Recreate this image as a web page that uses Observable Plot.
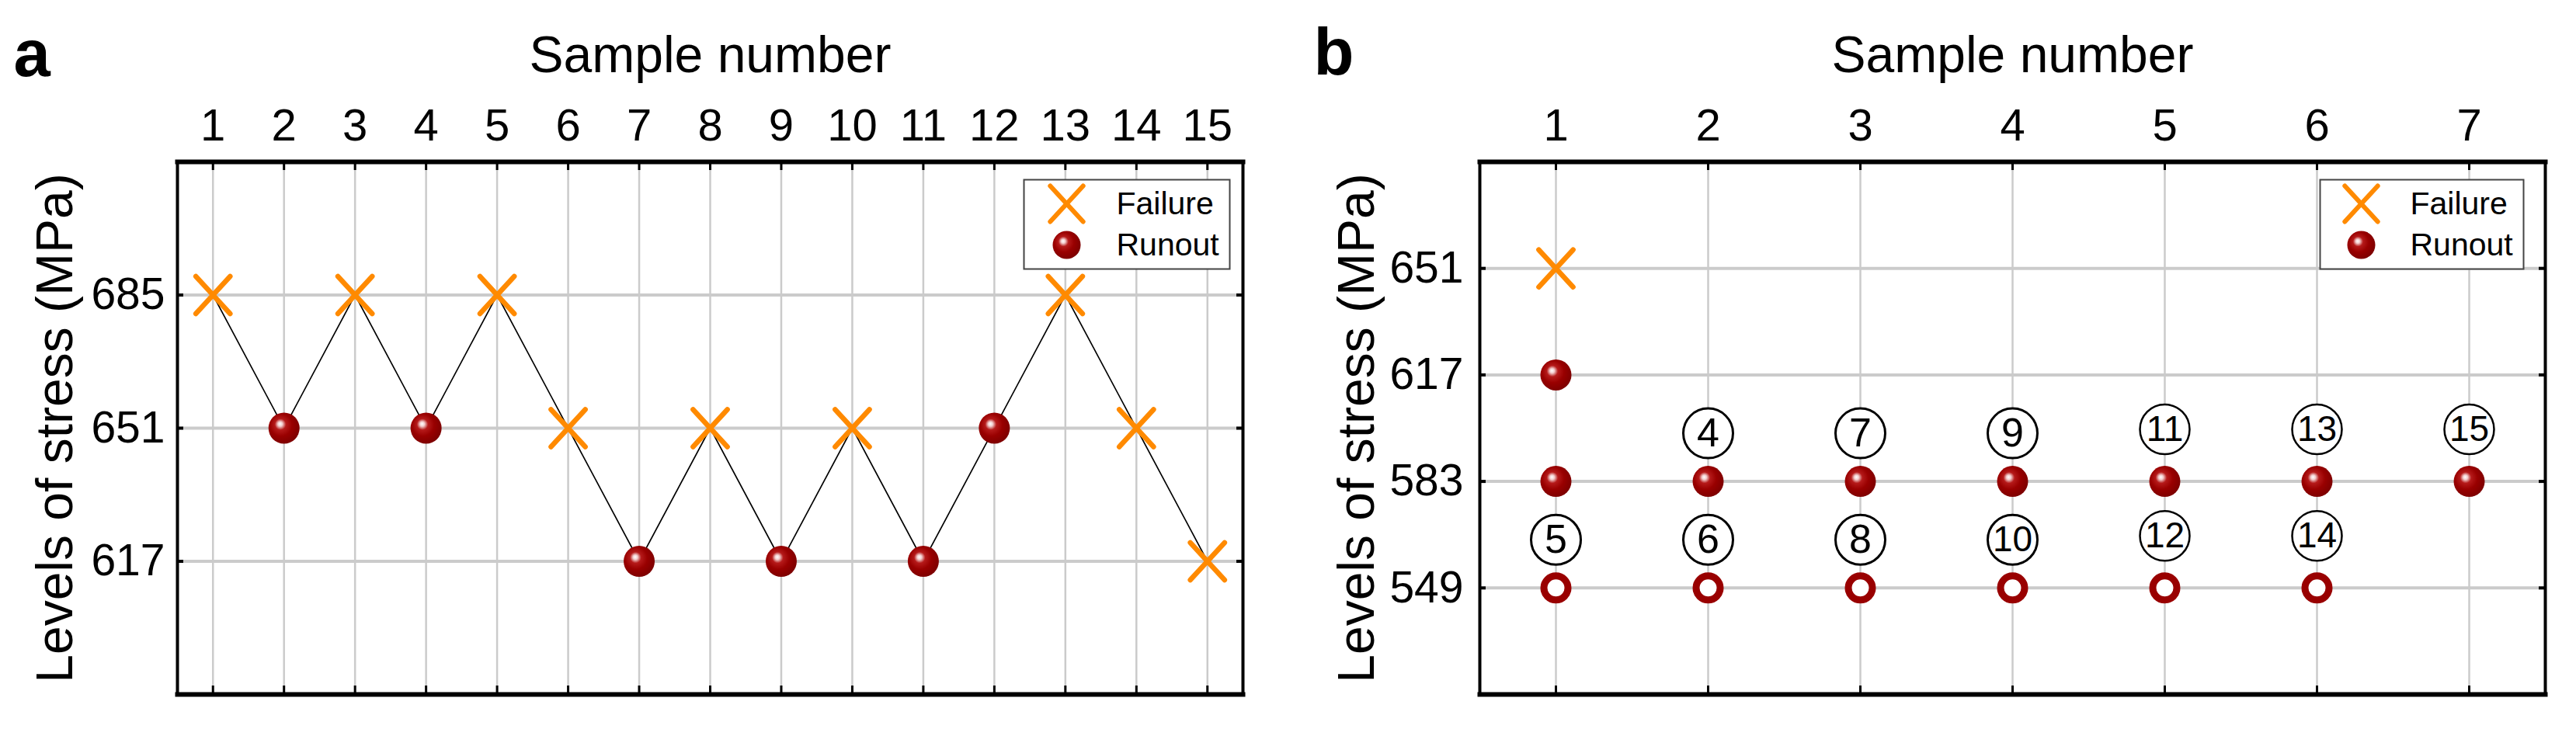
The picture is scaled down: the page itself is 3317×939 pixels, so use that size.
<!DOCTYPE html>
<html>
<head>
<meta charset="utf-8">
<script src="https://cdn.jsdelivr.net/npm/d3@7"></script>
<script src="https://cdn.jsdelivr.net/npm/@observablehq/plot@0.6"></script>
<style>
  html, body { margin: 0; padding: 0; background: #ffffff; }
  #wrap { position: relative; width: 3317px; height: 939px; overflow: hidden; }
  #panelA { position: absolute; left: 0; top: 0; }
  #panelB { position: absolute; left: 1660px; top: 0; }
</style>
</head>
<body>
<div id="wrap"><div id="panelA"></div><div id="panelB"></div></div>
<script>
// ---------------- Data ----------------
// Panel a: up-and-down test sequence
const samplesA = [1, 2, 3, 4, 5, 6, 7, 8, 9, 10, 11, 12, 13, 14, 15];
const stressA  = [685, 651, 685, 651, 685, 651, 617, 651, 617, 651, 617, 651, 685, 651, 617];
const resultA  = ["Failure", "Runout", "Failure", "Runout", "Failure", "Failure", "Runout", "Failure",
                  "Runout", "Failure", "Runout", "Runout", "Failure", "Failure", "Failure"];
const yTicksA  = [617, 651, 685];

// Panel b: step test
const stepsB = [1, 2, 3, 4, 5, 6, 7];
const yTicksB = [549, 583, 617, 651];
const failureStepB = [1];
const failureStressB = [651];
const runoutStepB = [1, 1, 2, 3, 4, 5, 6, 7];
const runoutStressB = [617, 583, 583, 583, 583, 583, 583, 583];
const openStepB = [1, 2, 3, 4, 5, 6];
const openStressB = [549, 549, 549, 549, 549, 549];
const labelStepB = [2, 3, 4, 5, 6, 7, 1, 2, 3, 4, 5, 6];
const labelStressB = [583, 583, 583, 583, 583, 583, 549, 549, 549, 549, 549, 549];
const labelNumB = [4, 7, 9, 11, 13, 15, 5, 6, 8, 10, 12, 14];

const legendLabels = ["Failure", "Runout"];
const titleX = "Sample number";
const titleY = "Levels of stress (MPa)";

// ---------------- Styling ----------------
const FONT = "'Liberation Sans', Arial, Helvetica, sans-serif";
const ORANGE = "#ff8a00";
const DARKRED = "#990000";
const GRID = "#cbcbcb";

const crossSymbol = {
  draw(ctx, size) {
    const r = Math.sqrt(size / Math.PI);
    ctx.moveTo(-r * 0.92, -r); ctx.lineTo(r * 0.92, r);
    ctx.moveTo(-r * 0.92, r); ctx.lineTo(r * 0.92, -r);
  }
};

const tableA = samplesA.map((s, i) => ({sample: s, stress: stressA[i], result: resultA[i]}));
const zip = (xs, ys) => xs.map((x, i) => ({x, y: ys[i]}));
const failB = zip(failureStepB, failureStressB);
const runB = zip(runoutStepB, runoutStressB);
const openB = zip(openStepB, openStressB);
const labelsB = labelStepB.map((x, i) => ({x, y: labelStressB[i], n: labelNumB[i]}));

function frameMarks(frameH, frameW, xTicks, yTicks) {
  return [
    Plot.ruleX(xTicks, {x: d => d, stroke: GRID, strokeWidth: 2.5}),
    Plot.ruleY(yTicks, {y: d => d, stroke: GRID, strokeWidth: 4}),
    // inward ticks
    Plot.ruleX(xTicks, {x: d => d, insetBottom: frameH - 11, stroke: "black", strokeWidth: 3}),
    Plot.ruleX(xTicks, {x: d => d, insetTop: frameH - 11, stroke: "black", strokeWidth: 3}),
    Plot.ruleY(yTicks, {y: d => d, insetRight: frameW - 8, stroke: "black", strokeWidth: 4}),
    Plot.ruleY(yTicks, {y: d => d, insetLeft: frameW - 8, stroke: "black", strokeWidth: 4}),
  ];
}

function axisMarks(xTicks, yTicks, yPad, yTitleDx) {
  return [
    Plot.axisX(xTicks, {anchor: "top", tickSize: 0, tickPadding: 28, fontSize: 58, label: null, tickFormat: d => String(d)}),
    Plot.axisY(yTicks, {anchor: "left", tickSize: 0, tickPadding: yPad, fontSize: 57, label: null, tickFormat: d => String(d)}),
    Plot.text([titleX], {frameAnchor: "top", dy: -137, fontSize: 66, textAnchor: "middle", lineAnchor: "middle"}),
    Plot.text([titleY], {frameAnchor: "left", dx: yTitleDx, rotate: -90, fontSize: 66, textAnchor: "middle", lineAnchor: "middle"})
  ];
}

function legendMarks(box, symX, textX) {
  return [
    Plot.frame({stroke: "#444", strokeWidth: 2, fill: "white", ...box}),
    Plot.dot([0], {frameAnchor: "top-left", dx: symX, dy: 54, symbol: crossSymbol, r: 23,
                   stroke: ORANGE, strokeWidth: 6, strokeLinecap: "round", fill: "none"}),
    Plot.dot([0], {frameAnchor: "top-left", dx: symX, dy: 107, r: 18, fill: "url(#sphereGrad)", stroke: "none"}),
    Plot.text([legendLabels[0]], {frameAnchor: "top-left", dx: textX, dy: 54, fontSize: 41, textAnchor: "start", lineAnchor: "middle"}),
    Plot.text([legendLabels[1]], {frameAnchor: "top-left", dx: textX, dy: 107, fontSize: 41, textAnchor: "start", lineAnchor: "middle"})
  ];
}

// ---------------- Panel a ----------------
const frameHA = 939 - 208 - 45, frameWA = 1660 - 228 - 60;
const plotA = Plot.plot({
  width: 1660, height: 939,
  marginLeft: 228, marginRight: 60, marginTop: 208, marginBottom: 45,
  x: {domain: [0.5, 15.5]},
  y: {domain: [583, 719]},
  style: {fontFamily: FONT, background: "transparent", overflow: "visible", color: "black"},
  marks: [
    ...frameMarks(frameHA, frameWA, samplesA, yTicksA),
    Plot.line(tableA, {x: "sample", y: "stress", stroke: "black", strokeWidth: 1.6}),
    Plot.dot(tableA.filter(d => d.result === "Failure"), {x: "sample", y: "stress", symbol: crossSymbol, r: 24,
             stroke: ORANGE, strokeWidth: 6.5, strokeLinecap: "round", fill: "none"}),
    Plot.dot(tableA.filter(d => d.result === "Runout"), {x: "sample", y: "stress", r: 20,
             fill: "url(#sphereGrad)", stroke: "none"}),
    Plot.frame({stroke: "black", strokeWidth: 4}),
    Plot.frame({anchor: "top", stroke: "black", strokeWidth: 6}),
    Plot.frame({anchor: "bottom", stroke: "black", strokeWidth: 6}),
    ...legendMarks({insetLeft: 1090, insetRight: 17, insetTop: 23, insetBottom: 548}, 1145, 1209),
    ...axisMarks(samplesA, yTicksA, 16, -157),
    Plot.text(["a"], {frameAnchor: "top-left", dx: -211, dy: -138, fontSize: 85, fontWeight: "bold",
                     textAnchor: "start", lineAnchor: "middle"})
  ]
});
document.getElementById("panelA").appendChild(plotA);

// ---------------- Panel b ----------------
const frameHB = 939 - 208 - 45, frameWB = 1657 - 245 - 40;
const plotB = Plot.plot({
  width: 1657, height: 939,
  marginLeft: 245, marginRight: 40, marginTop: 208, marginBottom: 45,
  x: {domain: [0.5, 7.5]},
  y: {domain: [515, 685]},
  style: {fontFamily: FONT, background: "transparent", overflow: "visible", color: "black"},
  marks: [
    ...frameMarks(frameHB, frameWB, stepsB, yTicksB),
    Plot.dot(labelsB.filter(d => d.n < 11), {x: "x", y: "y", dy: -62, r: 32, fill: "white", stroke: "black", strokeWidth: 3}),
    Plot.dot(labelsB.filter(d => d.n >= 11), {x: "x", y: "y", dy: -67, r: 32, fill: "white", stroke: "black", strokeWidth: 2.5}),
    Plot.text(labelsB.filter(d => d.n < 10), {x: "x", y: "y", text: "n", dy: -62, fontSize: 52, lineAnchor: "middle"}),
    Plot.text(labelsB.filter(d => d.n === 10), {x: "x", y: "y", text: "n", dy: -62, fontSize: 46, lineAnchor: "middle", letterSpacing: -3}),
    Plot.text(labelsB.filter(d => d.n >= 11), {x: "x", y: "y", text: "n", dy: -67, fontSize: 46, lineAnchor: "middle", letterSpacing: -3}),
    Plot.dot(openB, {x: "x", y: "y", r: 15.5, fill: "white", stroke: DARKRED, strokeWidth: 9}),
    Plot.dot(runB, {x: "x", y: "y", r: 20, fill: "url(#sphereGrad)", stroke: "none"}),
    Plot.dot(failB, {x: "x", y: "y", symbol: crossSymbol, r: 24,
             stroke: ORANGE, strokeWidth: 6.5, strokeLinecap: "round", fill: "none"}),
    Plot.frame({stroke: "black", strokeWidth: 4}),
    Plot.frame({anchor: "top", stroke: "black", strokeWidth: 6}),
    Plot.frame({anchor: "bottom", stroke: "black", strokeWidth: 6}),
    ...legendMarks({insetLeft: 1082, insetRight: 28, insetTop: 23, insetBottom: 548}, 1135, 1198),
    ...axisMarks(stepsB, yTicksB, 21, -158),
    Plot.text(["b"], {frameAnchor: "top-left", dx: -214, dy: -140, fontSize: 85, fontWeight: "bold",
                     textAnchor: "start", lineAnchor: "middle"})
  ]
});
document.getElementById("panelB").appendChild(plotB);

// sphere gradient definition
const svgA = d3.select(plotA.tagName.toLowerCase() === "svg" ? plotA : plotA.querySelector("svg"));
const defs = svgA.insert("defs", ":first-child");
const grad = defs.append("radialGradient").attr("id", "sphereGrad")
  .attr("cx", 0.42).attr("cy", 0.42).attr("r", 0.6).attr("fx", 0.37).attr("fy", 0.36);
[[0, "#ffffff"], [0.12, "#f3d0d0"], [0.3, "#b51a1a"], [0.6, "#990000"], [1, "#7d0000"]]
  .forEach(([o, c]) => grad.append("stop").attr("offset", o).attr("stop-color", c));
</script>
</body>
</html>
